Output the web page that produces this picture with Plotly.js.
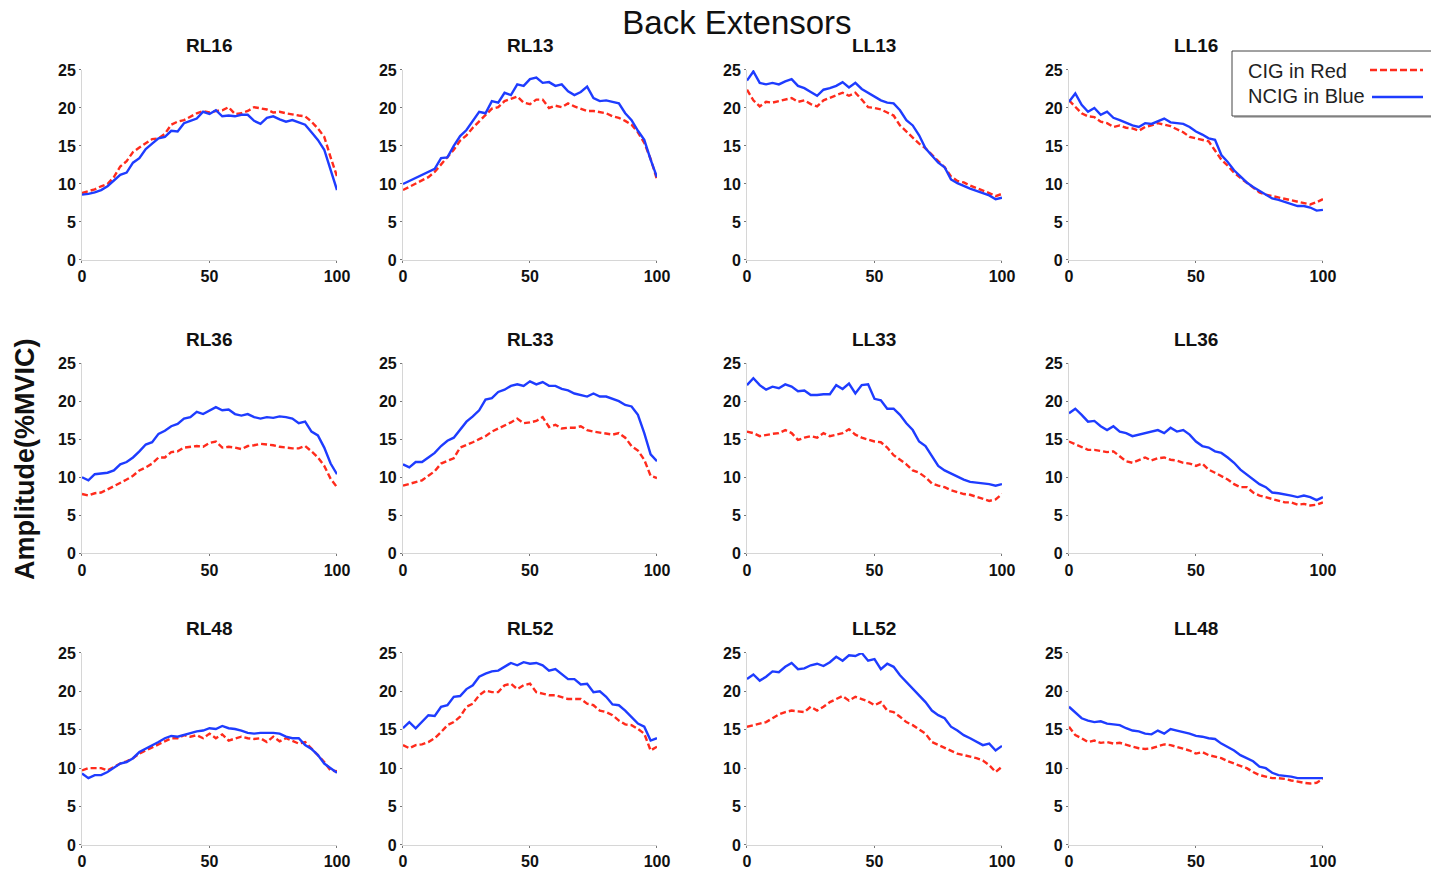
<!DOCTYPE html>
<html>
<head>
<meta charset="utf-8">
<script src="https://cdn.plot.ly/plotly-3.0.1.min.js"></script>
<style>html,body{margin:0;padding:0;background:#fff;}#chart{width:1431px;height:871px;}</style>
</head>
<body>
<div id="chart"></div>
<script>
// Percent of cycle (x samples)
const pctCycle = [0,2.5,5,7.5,10,12.5,15,17.5,20,22.5,25,27.5,30,32.5,35,37.5,40,42.5,45,47.5,50,52.5,55,57.5,60,62.5,65,67.5,70,72.5,75,77.5,80,82.5,85,87.5,90,92.5,95,97.5,100];

const panelNames = ['RL16','RL13','LL13','LL16','RL36','RL33','LL33','LL36','RL48','RL52','LL52','LL48'];
const xTicks = [0,50,100];
const yTicks = [0,5,10,15,20,25];
const seriesNames = ['CIG in Red','NCIG in Blue'];

// CIG (red, dashed) and NCIG (blue, solid) amplitude (%MVIC)
const rl16CIG  = [8.8,9.0,9.3,9.7,10.0,10.9,12.3,13.0,14.2,14.8,15.3,15.9,16.0,16.6,17.8,18.2,18.4,18.9,19.3,19.6,19.4,19.6,19.7,20.1,19.2,19.3,19.6,20.1,19.9,19.8,19.4,19.5,19.3,19.1,19.0,18.9,18.2,17.3,16.2,13.5,11.0];
const rl16NCIG = [8.6,8.7,8.9,9.2,9.7,10.4,11.2,11.5,12.8,13.4,14.6,15.3,16.0,16.2,17.0,16.9,18.0,18.3,18.6,19.5,19.2,19.7,18.9,19.0,18.9,19.1,19.1,18.3,17.9,18.7,18.9,18.5,18.2,18.4,18.1,17.8,16.8,15.8,14.5,11.8,9.2];

const rl13CIG  = [9.2,9.6,10.0,10.4,10.9,11.6,12.6,13.5,14.5,15.7,16.4,17.4,18.2,19.0,19.9,20.1,20.9,21.2,21.5,20.7,20.5,21.1,21.1,20.0,20.3,20.1,20.6,20.2,19.9,19.6,19.6,19.4,19.3,18.9,18.7,18.3,17.8,16.8,15.4,13.3,10.6];
const rl13NCIG = [10.0,10.4,10.8,11.2,11.6,12.0,13.4,13.5,15.0,16.3,17.1,18.3,19.5,19.3,20.9,20.7,22.0,21.7,23.1,22.9,23.8,24.0,23.3,23.4,22.9,23.1,22.2,21.7,22.1,22.8,21.3,20.9,21.0,20.8,20.6,19.3,18.4,17.0,15.8,13.2,10.9];

const ll13CIG  = [22.4,21.0,20.2,20.8,20.7,20.9,21.0,21.3,20.8,21.0,20.5,20.2,21.0,21.3,21.6,22.0,21.6,22.0,21.1,20.1,20.0,19.8,19.4,19.0,17.7,16.9,16.0,15.3,14.7,13.8,13.0,12.2,11.0,10.4,10.2,9.8,9.5,9.2,8.8,8.4,8.7];
const ll13NCIG = [23.6,24.8,23.3,23.1,23.3,23.1,23.5,23.8,22.9,22.6,22.1,21.6,22.4,22.6,22.9,23.4,22.7,23.3,22.5,22.0,21.4,21.0,20.7,20.6,19.7,18.4,17.7,16.4,14.7,13.8,12.8,12.2,10.6,10.1,9.7,9.4,9.1,8.8,8.5,8.0,8.2];

const ll16CIG  = [21.0,20.2,19.3,18.9,18.8,18.2,18.0,17.5,17.7,17.4,17.3,17.0,17.5,17.7,18.0,17.8,17.6,17.2,16.8,16.2,16.0,15.7,15.6,14.4,13.2,12.4,11.5,10.8,10.2,9.5,8.9,8.6,8.4,8.3,8.1,7.9,7.6,7.4,7.3,7.6,8.0];
const ll16NCIG = [20.8,21.9,20.4,19.5,20.0,19.1,19.5,18.7,18.4,18.0,17.7,17.5,18.0,17.9,18.3,18.6,18.1,18.0,17.9,17.5,16.9,16.5,16.0,15.8,13.8,12.9,11.8,11.0,10.2,9.6,9.1,8.6,8.1,7.9,7.6,7.4,7.1,7.1,6.9,6.5,6.6];

const rl36CIG  = [7.8,7.6,7.9,8.0,8.4,8.8,9.3,9.7,10.2,10.9,11.3,11.8,12.6,12.6,13.3,13.4,13.9,14.0,14.1,14.0,14.5,14.7,13.9,14.0,13.9,13.7,14.1,14.2,14.4,14.3,14.2,14.0,13.9,13.8,13.8,14.1,13.4,12.6,11.5,9.8,8.7];
const rl36NCIG = [10.0,9.6,10.4,10.5,10.6,10.9,11.7,12.0,12.6,13.4,14.3,14.6,15.7,16.1,16.7,17.0,17.7,17.9,18.6,18.3,18.8,19.2,18.8,18.9,18.3,18.1,18.3,17.9,17.7,17.9,17.8,18.0,17.9,17.7,17.1,17.3,16.0,15.5,13.9,11.8,10.4];

const rl33CIG  = [8.9,9.1,9.3,9.6,10.2,10.8,11.8,12.1,12.5,13.9,14.2,14.6,15.0,15.4,16.0,16.4,16.7,17.2,17.7,17.1,17.2,17.4,17.9,16.6,16.9,16.4,16.5,16.5,16.7,16.2,16.0,15.9,15.8,15.6,15.8,15.2,14.1,13.5,12.3,10.2,9.9];
const rl33NCIG = [11.7,11.3,12.0,12.0,12.6,13.2,14.1,14.8,15.2,16.3,17.3,18.0,18.8,20.2,20.4,21.2,21.5,22.0,22.2,22.0,22.6,22.2,22.5,22.0,22.0,21.6,21.4,21.0,20.8,20.6,21.0,20.6,20.6,20.3,20.0,19.5,19.3,18.2,15.8,13.0,12.1];

const ll33CIG  = [16.0,15.8,15.4,15.6,15.7,15.8,16.2,15.8,14.9,15.2,15.4,15.2,15.8,15.4,15.6,15.8,16.3,15.6,15.2,14.9,14.7,14.6,13.9,12.9,12.3,11.7,10.9,10.6,10.0,9.2,8.9,8.7,8.3,8.0,7.8,7.7,7.4,7.1,6.9,7.1,7.8];
const ll33NCIG = [22.1,23.0,22.1,21.5,21.9,21.7,22.2,21.9,21.3,21.4,20.8,20.8,20.9,20.9,22.1,21.6,22.3,21.0,22.1,22.2,20.3,20.1,19.0,19.0,18.2,17.1,16.2,14.7,14.1,12.8,11.5,10.9,10.5,10.0,9.7,9.4,9.3,9.2,9.1,8.9,9.1];

const ll36CIG  = [14.7,14.3,13.9,13.6,13.6,13.4,13.3,13.4,12.8,12.1,11.9,12.3,12.6,12.2,12.5,12.6,12.3,12.2,11.9,11.8,11.5,11.8,11.0,10.6,10.2,9.7,9.1,8.7,8.7,8.0,7.6,7.4,7.1,6.9,6.7,6.7,6.4,6.5,6.3,6.4,6.7];
const ll36NCIG = [18.4,19.0,18.2,17.3,17.4,16.7,16.2,16.7,16.0,15.8,15.4,15.6,15.8,16.0,16.2,15.8,16.5,16.0,16.2,15.6,14.7,14.1,13.9,13.4,13.2,12.6,11.9,11.0,10.4,9.7,9.1,8.7,8.0,7.9,7.7,7.6,7.4,7.6,7.4,7.0,7.4];

const rl48CIG  = [9.7,10.0,10.0,10.0,9.7,10.2,10.6,10.9,11.3,11.9,12.3,12.8,13.2,13.6,13.9,13.9,14.3,14.1,14.3,13.9,14.5,13.9,14.4,13.6,13.9,14.1,13.9,13.8,13.9,13.4,14.1,13.5,13.9,13.6,13.2,13.4,12.6,11.7,10.8,9.7,9.6];
const rl48NCIG = [9.3,8.7,9.1,9.1,9.5,10.0,10.6,10.8,11.3,12.1,12.5,13.0,13.4,13.9,14.2,14.1,14.3,14.5,14.8,14.9,15.2,15.1,15.5,15.2,15.1,14.9,14.6,14.5,14.6,14.6,14.6,14.5,14.1,13.9,13.9,13.0,12.5,11.7,10.6,10.0,9.4];

const rl52CIG  = [13.0,12.6,13.0,13.1,13.4,13.9,14.7,15.6,16.0,16.7,18.0,18.4,19.5,20.1,19.9,19.9,20.8,21.0,20.3,20.8,21.0,19.9,19.7,19.5,19.5,19.3,19.0,19.0,19.0,18.4,18.2,17.5,17.3,16.9,16.2,15.7,15.6,15.1,14.5,12.3,12.8];
const rl52NCIG = [15.2,16.0,15.2,16.0,16.9,16.8,18.0,18.2,19.3,19.4,20.3,20.8,21.9,22.3,22.6,22.7,23.2,23.7,23.4,23.8,23.6,23.7,23.4,22.7,22.9,22.3,21.6,21.6,20.9,21.0,19.9,20.0,19.3,18.3,18.2,17.5,16.7,15.8,15.4,13.6,13.9];

const ll52CIG  = [15.4,15.6,15.8,16.0,16.5,17.0,17.3,17.5,17.4,17.3,18.0,17.5,18.0,18.6,19.0,19.4,18.8,19.3,19.0,18.7,18.2,18.6,17.5,17.3,16.7,16.0,15.6,15.1,14.5,13.4,13.0,12.6,12.3,11.9,11.7,11.5,11.3,11.0,10.4,9.5,10.2];
const ll52NCIG = [21.6,22.2,21.4,21.9,22.6,22.5,23.2,23.7,22.9,23.0,23.4,23.6,23.3,23.8,24.5,24.0,24.7,24.6,25.0,24.0,24.2,22.9,23.6,23.2,22.1,21.2,20.3,19.5,18.6,17.5,16.9,16.5,15.4,14.9,14.3,13.9,13.5,13.0,13.2,12.3,12.9];

const ll48CIG  = [15.4,14.3,13.9,13.4,13.6,13.3,13.4,13.2,13.3,13.0,12.8,12.6,12.5,12.6,12.9,13.1,13.0,12.8,12.6,12.3,11.9,12.1,11.7,11.5,11.3,10.9,10.6,10.2,10.0,9.5,9.1,8.9,8.7,8.7,8.6,8.4,8.2,8.1,8.0,8.1,8.6];
const ll48NCIG = [18.0,17.3,16.5,16.2,16.0,16.1,15.8,15.7,15.6,15.2,14.9,14.8,14.5,14.4,14.9,14.5,15.1,14.9,14.7,14.5,14.2,14.1,13.9,13.8,13.2,12.8,12.3,11.7,11.3,10.9,10.2,10.0,9.4,9.1,9.0,8.9,8.7,8.7,8.7,8.7,8.7];

const cigSeries  = [rl16CIG, rl13CIG, ll13CIG, ll16CIG, rl36CIG, rl33CIG, ll33CIG, ll36CIG, rl48CIG, rl52CIG, ll52CIG, ll48CIG];
const ncigSeries = [rl16NCIG, rl13NCIG, ll13NCIG, ll16NCIG, rl36NCIG, rl33NCIG, ll33NCIG, ll36NCIG, rl48NCIG, rl52NCIG, ll52NCIG, ll48NCIG];

// ---------- layout ----------
const W = 1431, H = 871;
const FONT = 'Liberation Sans, Arial, Helvetica, sans-serif';
const RED = '#ff2b1c';
const BLUE = '#1e3cff';
const colDom = [[0.0573,0.2355],[0.2816,0.4591],[0.5220,0.7002],[0.7470,0.9245]];
const rowDom = [[0.7015,0.9197],[0.3646,0.5832],[0.0299,0.2503]];

const traces = [];
const layout = {
  width: W, height: H,
  margin: {l:0, r:0, t:0, b:0},
  paper_bgcolor: '#ffffff', plot_bgcolor: '#ffffff',
  showlegend: false,
  title: {text: 'Back Extensors', x: 0.515, xanchor: 'center', xref: 'paper', y: 1 - 22/H, yref: 'container', yanchor: 'middle',
          font: {family: FONT, size: 33, color: '#111'}},
  annotations: [], shapes: []
};

panelNames.forEach((name, i) => {
  const id = i === 0 ? '' : String(i + 1);
  const r = Math.floor(i / 4), c = i % 4;
  const tickFont = {family: FONT, size: 16, weight: 'bold', color: '#111'};
  layout['xaxis' + id] = {
    domain: colDom[c], range: [0, 100], anchor: 'y' + id,
    tickmode: 'array', tickvals: xTicks, ticktext: xTicks.map(String),
    ticks: 'outside', ticklen: 2, tickcolor: '#777', tickwidth: 1,
    showline: true, linecolor: '#d6d6d6', linewidth: 1, mirror: false,
    showgrid: false, zeroline: false, tickfont: tickFont, fixedrange: true
  };
  layout['yaxis' + id] = {
    domain: rowDom[r], range: [0, 25], anchor: 'x' + id,
    tickmode: 'array', tickvals: yTicks, ticktext: yTicks.map(String),
    ticks: 'outside', ticklen: 2, tickcolor: '#777', tickwidth: 1,
    showline: true, linecolor: '#d6d6d6', linewidth: 1, mirror: false,
    showgrid: false, zeroline: false, tickfont: tickFont, fixedrange: true
  };
  traces.push({
    type: 'scatter', mode: 'lines', x: pctCycle, y: cigSeries[i], name: seriesNames[0],
    xaxis: 'x' + id, yaxis: 'y' + id, hoverinfo: 'skip',
    line: {color: RED, width: 2.4, dash: '6px,3px'}
  });
  traces.push({
    type: 'scatter', mode: 'lines', x: pctCycle, y: ncigSeries[i], name: seriesNames[1],
    xaxis: 'x' + id, yaxis: 'y' + id, hoverinfo: 'skip',
    line: {color: BLUE, width: 2.4}
  });
  layout.annotations.push({
    text: name, xref: 'paper', yref: 'paper',
    x: (colDom[c][0] + colDom[c][1]) / 2, y: rowDom[r][1],
    xanchor: 'center', yanchor: 'middle', yshift: 24, showarrow: false,
    font: {family: FONT, size: 19, weight: 'bold', color: '#111'}
  });
});

// y-axis title
layout.annotations.push({
  text: 'Amplitude(%MVIC)', xref: 'paper', yref: 'paper', x: 25/W, y: 1 - 460/H,
  xanchor: 'center', yanchor: 'middle', textangle: -90, showarrow: false,
  font: {family: FONT, size: 27, weight: 'bold', color: '#111'}
});

// legend box (drawn manually, symbols on the right as in the original)
const px = v => v / W, py = v => 1 - v / H;
layout.shapes.push({type:'rect', xref:'paper', yref:'paper', x0: px(1234), x1: px(1445), y0: py(118), y1: py(53),
  fillcolor:'#bdbdbd', line:{width:0}, layer:'above'});
layout.shapes.push({type:'rect', xref:'paper', yref:'paper', x0: px(1232), x1: px(1443), y0: py(116), y1: py(51),
  fillcolor:'#ffffff', line:{color:'#444', width:1}, layer:'above'});
layout.shapes.push({type:'line', xref:'paper', yref:'paper', x0: px(1370), x1: px(1423), y0: py(70), y1: py(70),
  line:{color: RED, width: 2.5, dash: '7px,3px'}, layer:'above'});
layout.shapes.push({type:'line', xref:'paper', yref:'paper', x0: px(1372), x1: px(1423), y0: py(97), y1: py(97),
  line:{color: BLUE, width: 2.5}, layer:'above'});
layout.annotations.push({text: seriesNames[0], xref:'paper', yref:'paper', x: px(1246), y: py(71),
  xanchor:'left', yanchor:'middle', showarrow:false, font:{family: FONT, size: 20, color:'#222'}});
layout.annotations.push({text: seriesNames[1], xref:'paper', yref:'paper', x: px(1246), y: py(96),
  xanchor:'left', yanchor:'middle', showarrow:false, font:{family: FONT, size: 20, color:'#222'}});

Plotly.newPlot('chart', traces, layout, {displayModeBar: false, staticPlot: true});
</script>
</body>
</html>
